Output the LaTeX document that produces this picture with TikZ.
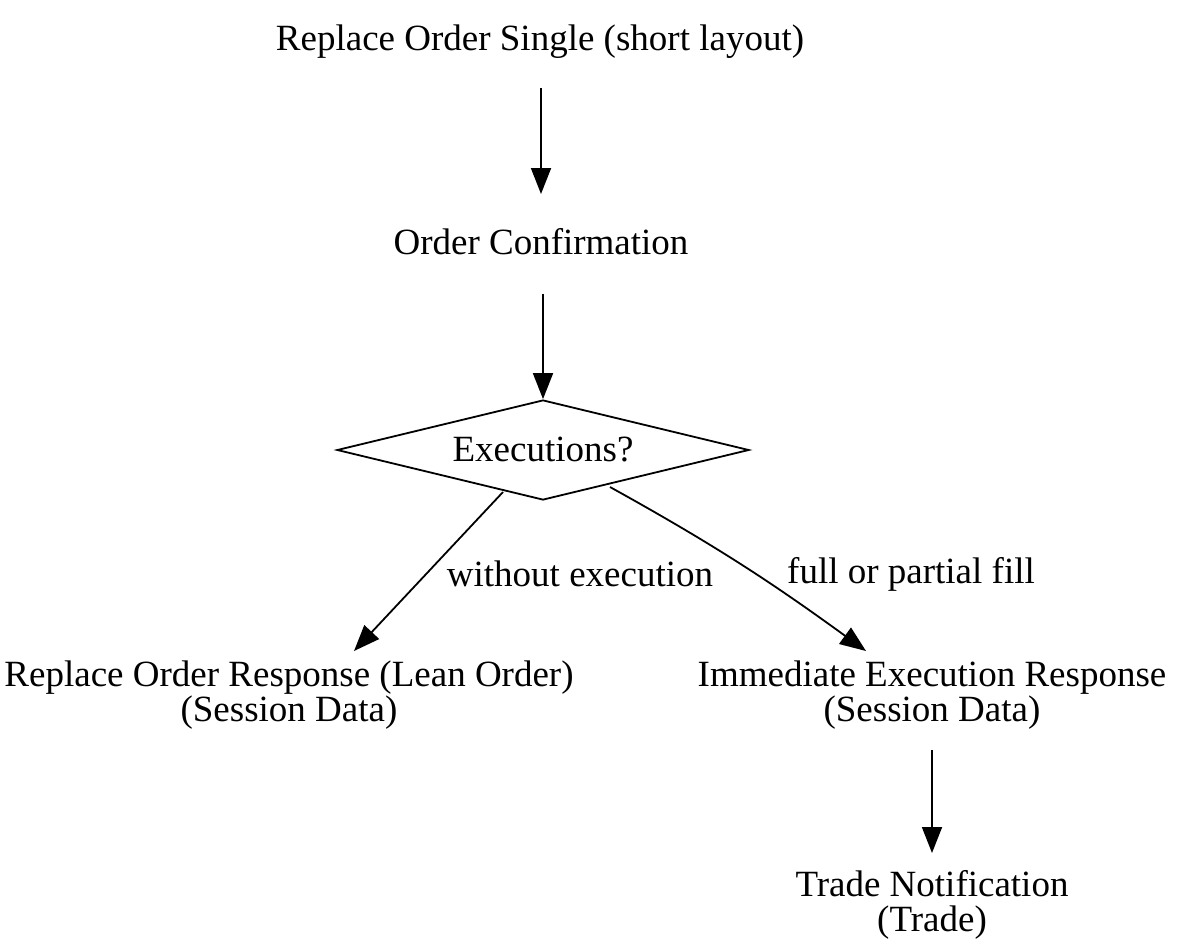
\documentclass[tikz,border=0pt]{standalone}
\usepackage{fontspec}
\setmainfont{Liberation Serif}
\usetikzlibrary{shapes.geometric,arrows.meta,calc}
\begin{document}
\begin{tikzpicture}[x=1pt,y=-1pt,
  lbl/.style={font=\fontsize{37}{35.5}\selectfont, inner sep=0pt, align=center},
  arr/.style={line width=1.8pt, -{Triangle[length=26pt,width=20pt]}},
  dec/.style={shape=diamond, draw, line width=1.8pt, minimum width=412pt, minimum height=100pt, inner sep=0pt, aspect=4.1, font=\fontsize{37}{35.5}\selectfont}]
\useasboundingbox (0,0) rectangle (1177,943);
\node[lbl] (ros) at (540,42) {Replace Order Single (short layout)};
\node[lbl] (oc) at (541,242) {Order Confirmation};
\node[dec] (ex) at (543,450) {Executions?};
\node[lbl] (lres) at (289,695) {Replace Order Response (Lean Order)\\(Session Data)};
\node[lbl] (rres) at (932,695) {Immediate Execution Response\\(Session Data)};
\node[lbl] (tn) at (932,905) {Trade Notification\\(Trade)};
\node[lbl] (l1) at (580,574) {without execution};
\node[lbl] (l2) at (911,574) {full or partial fill};
\coordinate (ls) at (503,492);
\coordinate (le) at (354,651);
\coordinate (rs) at (610,487);
\coordinate (re) at (866,651);
\draw[arr] (541,88) -- (oc.north |- 0,194);
\draw[arr] (ex.north |- 0,294) -- (ex.north);
\draw[arr] (ls) -- (le);
\draw[arr] (rs) to[out=-29,in=144] (re);
\draw[arr] (rres.south |- 0,750) -- (tn.north |- 0,853);
\end{tikzpicture}
\end{document}
